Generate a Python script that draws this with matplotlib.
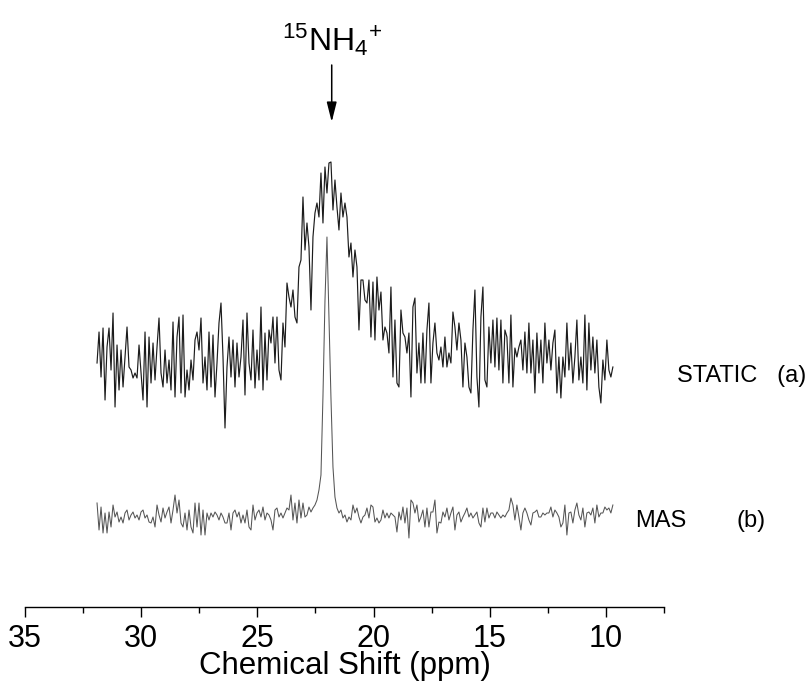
import numpy as np
import matplotlib
matplotlib.use("Agg")
import matplotlib.pyplot as plt
from matplotlib.ticker import MultipleLocator

plt.rcParams['font.family'] = ['Liberation Sans', 'DejaVu Sans']
plt.rcParams['mathtext.fontset'] = 'custom'
plt.rcParams['mathtext.rm'] = 'Liberation Sans'
plt.rcParams['mathtext.default'] = 'regular'

# ---- data ----
ppm_start, ppm_end = 31.9, 9.7

static_intensity = [
    37, 68, 23, 72, 0, 53, 72, 30, 87, -7,
    55, 10, 50, 13, 43, 73, 33, 30, 22, 27,
    22, 55, 27, 0, 68, -7, 63, 17, 57, 20,
    53, 82, 27, 13, 50, 17, 40, 10, 78, 3,
    63, 83, 7, 85, 3, 30, 10, 40, 20, 60,
    68, 50, 82, 17, 43, 10, 68, 13, 65, 3,
    37, 77, 97, 43, -28,
    33, 63, 23, 60, 13, 57, 23, 43, 80, 5,
    87, 37, 20, 70, 12, 50, 20, 93, 10, 67,
    20, 70, 57, 83, 37, 83, 30, 20, 77, 53,
    117, 103, 93, 110, 83, 77, 133, 140, 203, 150,
    177, 153, 90, 163, 187, 197, 183, 227, 177, 233,
    207, 237, 238, 190, 220, 193, 170, 207, 183, 197,
    183, 143, 157, 123, 150,
    133, 70, 120, 120, 100, 97, 120, 63, 118, 60,
    123, 90, 108, 60, 73, 67, 47, 113, 23, 80,
    17, 13, 90, 67, 63, 47, 67, 3, 93, 102,
    27, 57, 17, 67, 17, 70, 97, 17, 57, 77,
    47, 40, 53, 33, 63, 33, 47, 37, 88, 73,
    50, 77, 60, 13, 57, 43, 13, 7, 70, 110,
    23, -7, 83, 113, 20,
    13, 73, 37, 80, 33, 82, 30, 80, 17, 70,
    63, 17, 85, 13, 52, 43, 53, 60, 30, 68,
    27, 77, 27, 60, 7, 67, 27, 60, 17, 77,
    37, 60, 30, 57, 70, 7, 43, 2, 43, 23,
    77, 30, 57, 17, 43, 80, 20, 43, 17, 85,
    10, 77, 30, 63, 27, 60, 13, -3, 40, 20,
    60, 30, 23, 33,
]

mas_intensity = [
    37, 10, 33, 7, 27, 7, 28, 13, 35, 23,
    28, 18, 23, 17, 27, 30, 20, 25, 28, 22,
    25, 20, 28, 30, 22, 25, 18, 17, 23, 13,
    35, 25, 18, 32, 22, 28, 33, 17, 30, 45,
    27, 40, 17, 13, 27, 10, 30, 13, 7, 37,
    13, 37, 5, 30, 5, 27, 20, 27, 23, 28,
    25, 20, 27, 23, 17, 17, 27, 10, 27, 30,
    23, 28, 17, 25, 17, 30, 13, 10, 35, 20,
    27, 30, 23, 33, 20, 27, 25, 20, 10, 30,
    32, 23, 27, 22, 27, 32, 30, 45, 20, 37,
    17, 40, 22, 37, 23, 25, 33, 28, 32, 35,
    40, 50, 65, 144, 239, 303, 221, 142, 73, 43, 32,
    27, 30, 22, 25, 18, 23,
    20, 35, 27, 32, 23, 17, 23, 25, 32, 22,
    35, 33, 18, 22, 17, 20, 30, 22, 27, 22,
    27, 25, 23, 8, 28, 20, 33, 17, 32, 2,
    40, 37, 27, 35, 18, 23, 30, 13, 32, 13,
    28, 28, 40, 7, 18, 17, 28, 23, 32, 20,
    27, 33, 10, 25, 28, 18, 23, 27, 32, 23,
    27, 22, 25, 28, 17, 13, 32, 18, 32, 22,
    27, 27, 22, 28, 25, 22, 25, 23, 27, 30,
    42, 35, 20, 35, 23, 10, 27, 32, 27, 20,
    15, 27, 28, 30, 23, 23, 27, 25, 27, 27,
    33, 23, 30, 27, 23, 13, 17, 35, 5, 27,
    28, 17, 30, 37, 25, 20, 32, 13, 27, 28,
    25, 32, 17, 35, 23, 27, 27, 33, 30, 32,
    27, 35,
]

static_offset = 207
mas_offset = 67

x_ticks = [35, 30, 25, 20, 15, 10]
peak_ppm = 21.8

# ---- figure ----
W, H = 809, 685
fig = plt.figure(figsize=(W / 100, H / 100), dpi=100)
ax = fig.add_axes([25 / W, 78 / H, 639 / W, 607 / H])

ppm = np.linspace(ppm_start, ppm_end, len(static_intensity))
ppm_m = np.linspace(ppm_start, ppm_end, len(mas_intensity))

ax.plot(ppm, np.array(static_intensity) + static_offset, color='#1c1c1c', lw=0.85)
ax.plot(ppm_m, np.array(mas_intensity) + mas_offset, color='#555555', lw=0.75)

ax.set_xlim(35, 7.5)
ax.set_ylim(0, 607)
for s in ['top', 'left', 'right']:
    ax.spines[s].set_visible(False)
ax.spines['bottom'].set_linewidth(1.0)
ax.set_yticks([])
ax.set_xticks(x_ticks)
ax.xaxis.set_minor_locator(MultipleLocator(2.5))
ax.tick_params(axis='x', which='major', direction='out', length=7, width=1.0,
               labelsize=22, pad=5)
ax.tick_params(axis='x', which='minor', direction='out', length=4, width=1.0)
ax.set_xlabel('Chemical Shift (ppm)', fontsize=22.5, labelpad=-2)

# annotation arrow and label
ax.annotate('', xy=(peak_ppm, 607 - 122), xytext=(peak_ppm, 607 - 65),
            arrowprops=dict(arrowstyle='-|>,head_length=0.6,head_width=0.15',
                            color='black', lw=1.1, mutation_scale=20,
                            shrinkA=0, shrinkB=0))
ax.text(peak_ppm, 607 - 58, r'$^{15}$NH$_4$$^{+}$', fontsize=23,
        ha='center', va='bottom')

lab_size = 17
fig.text(806 / W, 1 - 376 / H, 'STATIC   (a)', fontsize=lab_size, va='center',
         ha='right')
fig.text(635 / W, 1 - 521 / H, 'MAS', fontsize=lab_size, va='center', ha='left')
fig.text(766 / W, 1 - 521 / H, '(b)', fontsize=lab_size, va='center', ha='right')

fig.savefig('out.png', dpi=100)
